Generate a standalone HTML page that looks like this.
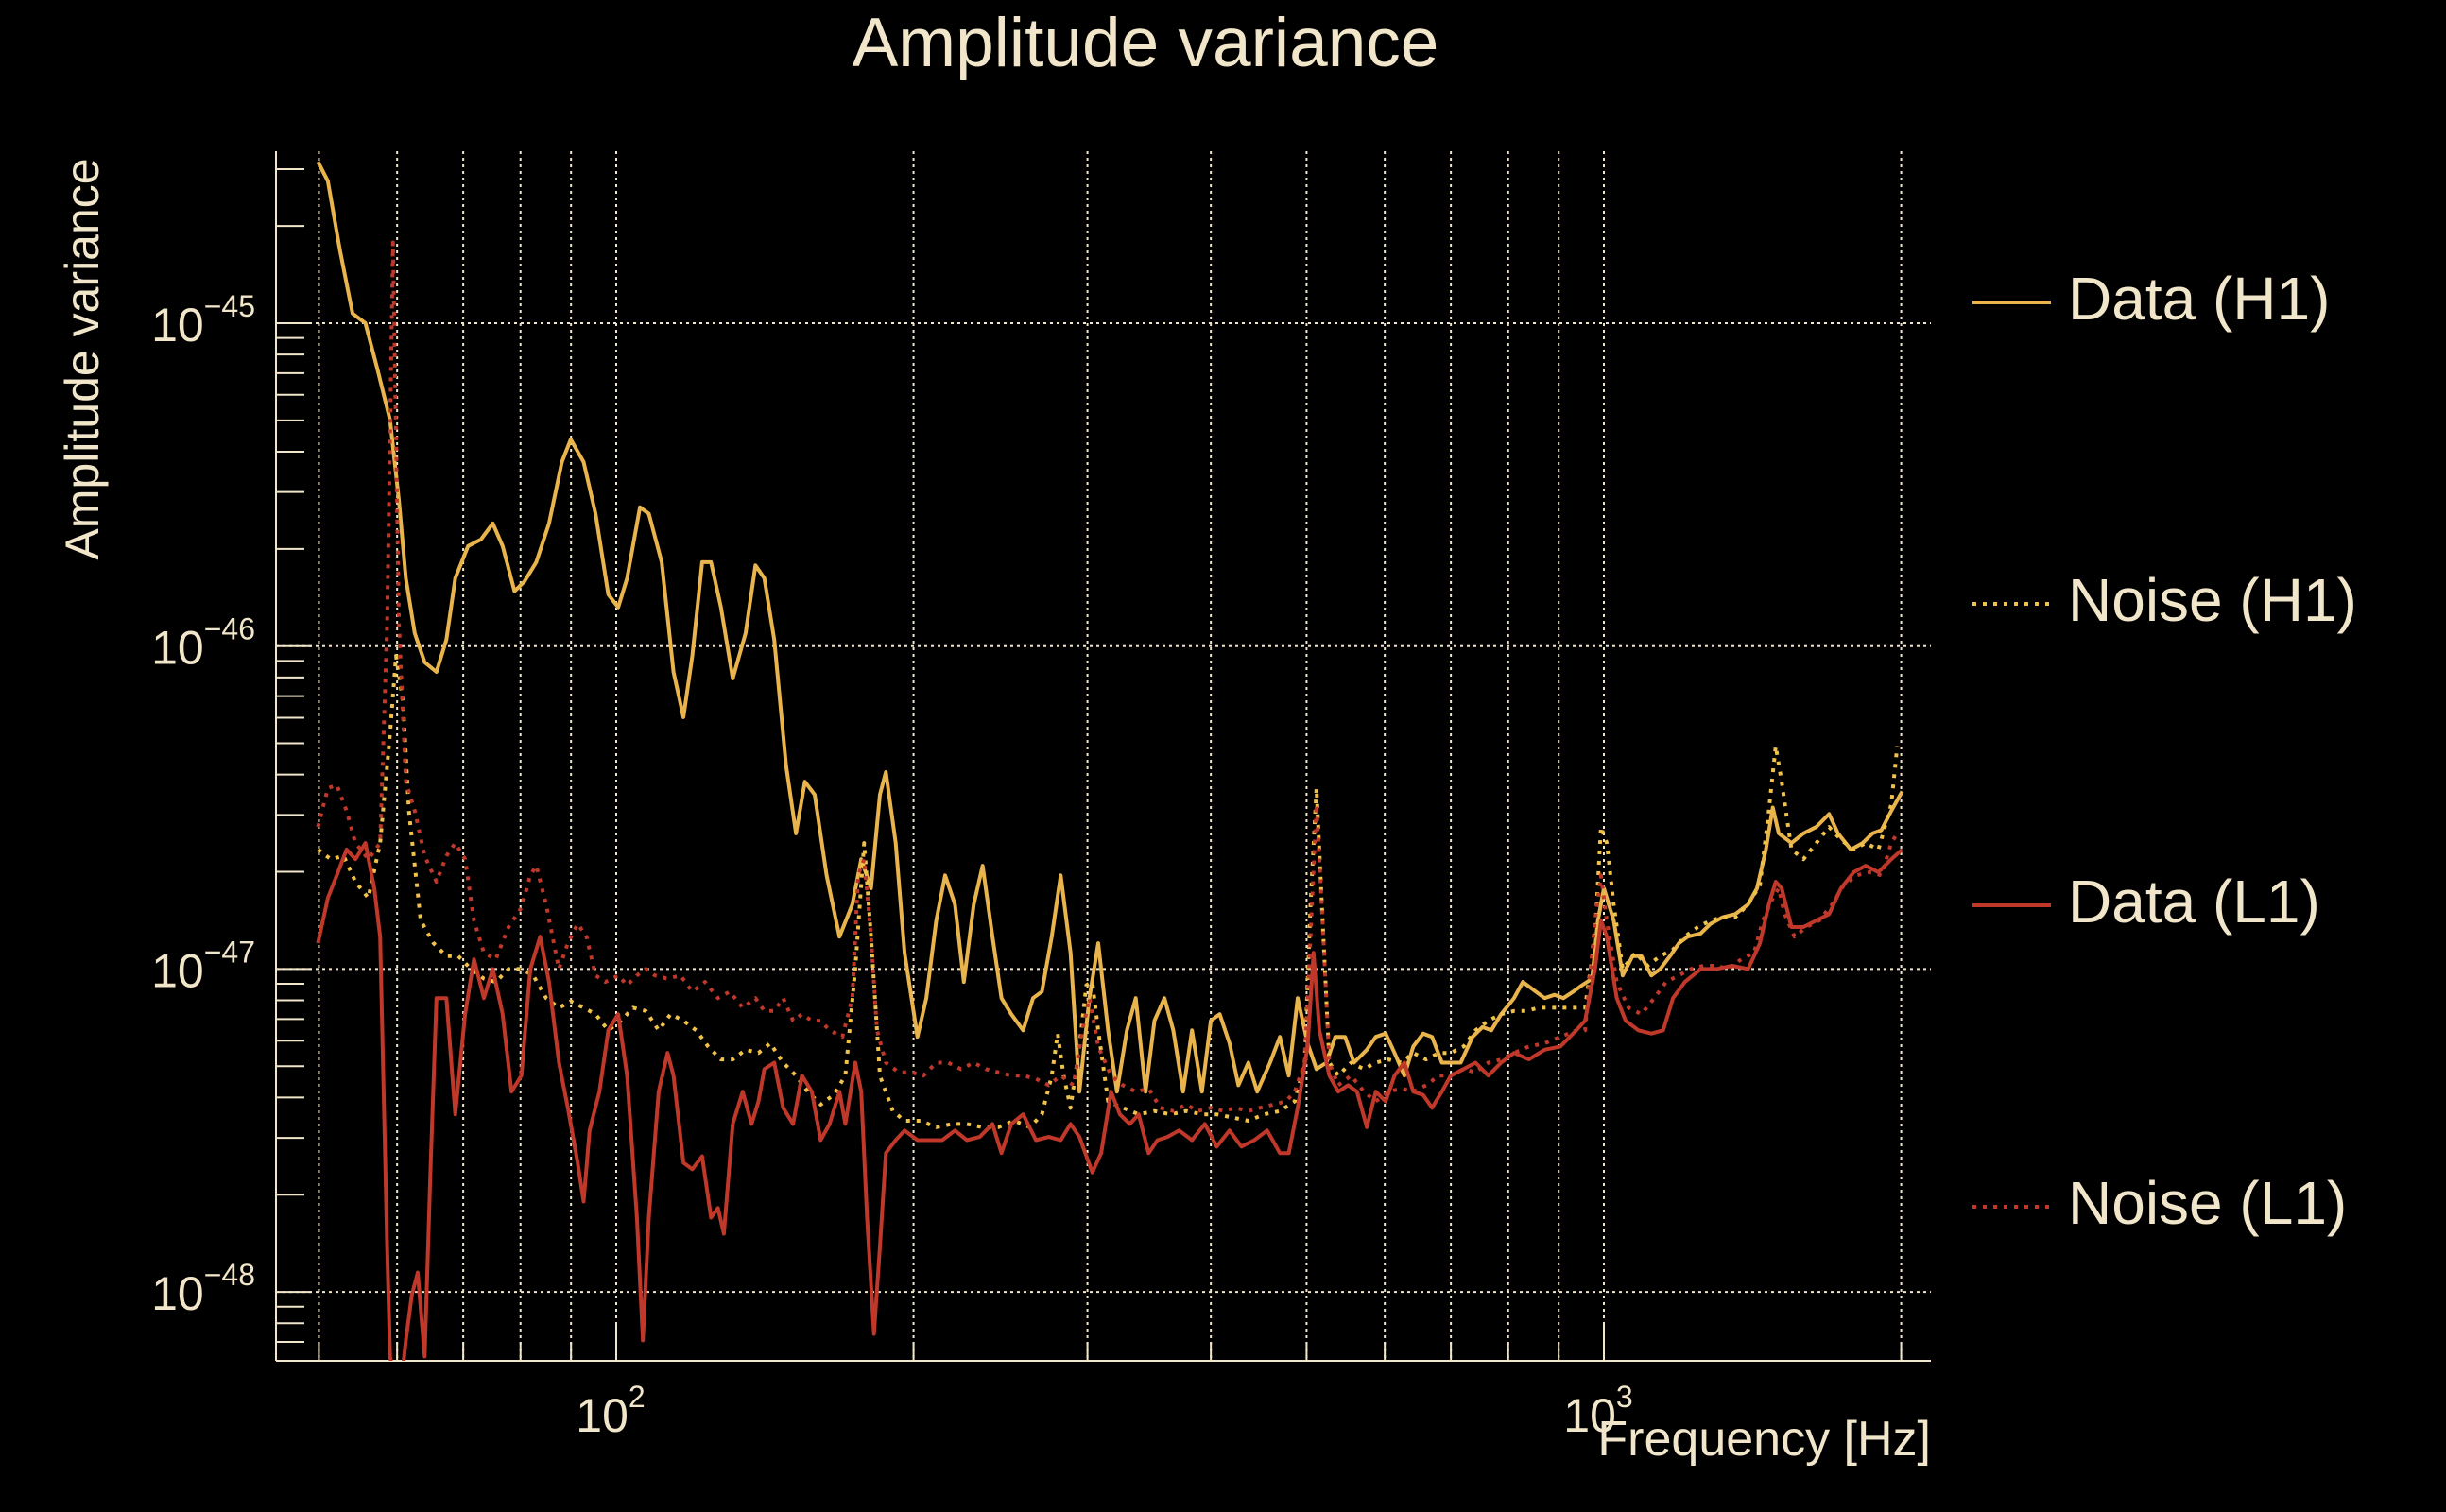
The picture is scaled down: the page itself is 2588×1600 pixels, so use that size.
<!DOCTYPE html>
<html><head><meta charset="utf-8"><style>
html,body{margin:0;padding:0;background:#000;}
svg{display:block;}
text{font-family:"Liberation Sans",sans-serif;fill:#f1e6c9;}
</style></head><body>
<svg id="chart" width="2588" height="1600" viewBox="0 0 2588 1600" xmlns="http://www.w3.org/2000/svg">
<rect width="2588" height="1600" fill="#000"/>
<text x="1212" y="70" font-size="73" text-anchor="middle">Amplitude variance</text>
<text transform="translate(104,380) rotate(-90)" font-size="50" text-anchor="middle">Amplitude variance</text>
<text x="2043" y="1540" font-size="52" text-anchor="end">Frequency [Hz]</text>
<g id="grid"></g>
<g id="axes"></g>
<g id="series"></g>
<g id="legend"></g>
</svg>
<script>
// ---- data: log10(frequency [Hz]) and log10(amplitude variance) ----
const h1DataLogF = [1.698,1.708,1.720,1.733,1.746,1.758,1.771,1.780,1.787,1.796,1.806,1.818,1.828,1.837,1.850,1.863,1.875,1.885,1.897,1.907,1.919,1.932,1.945,1.954,1.967,1.979,1.992,2.002,2.011,2.024,2.033,2.046,2.058,2.068,2.077,2.087,2.096,2.106,2.118,2.131,2.141,2.150,2.160,2.172,2.182,2.191,2.201,2.213,2.226,2.239,2.248,2.258,2.267,2.273,2.283,2.292,2.305,2.314,2.324,2.333,2.343,2.352,2.362,2.371,2.381,2.390,2.400,2.412,2.422,2.431,2.441,2.450,2.460,2.469,2.479,2.488,2.498,2.507,2.517,2.526,2.536,2.545,2.555,2.564,2.574,2.583,2.593,2.602,2.611,2.621,2.630,2.640,2.649,2.662,2.672,2.681,2.690,2.700,2.709,2.719,2.728,2.738,2.747,2.760,2.769,2.779,2.788,2.798,2.807,2.817,2.826,2.836,2.845,2.855,2.867,2.877,2.886,2.896,2.909,2.918,2.931,2.940,2.950,2.959,2.969,2.978,2.988,2.994,3.000,3.010,3.019,3.029,3.038,3.048,3.057,3.067,3.076,3.085,3.098,3.108,3.120,3.133,3.146,3.155,3.164,3.171,3.177,3.190,3.202,3.215,3.228,3.237,3.250,3.262,3.272,3.281,3.291,3.302];
const h1DataLogV = [-44.50,-44.56,-44.77,-44.97,-45.00,-45.14,-45.30,-45.55,-45.79,-45.96,-46.05,-46.08,-45.98,-45.79,-45.69,-45.67,-45.62,-45.69,-45.83,-45.80,-45.74,-45.62,-45.43,-45.36,-45.43,-45.59,-45.84,-45.88,-45.79,-45.57,-45.59,-45.74,-46.08,-46.22,-46.03,-45.74,-45.74,-45.88,-46.10,-45.96,-45.75,-45.79,-45.98,-46.37,-46.58,-46.42,-46.46,-46.71,-46.90,-46.80,-46.66,-46.75,-46.46,-46.39,-46.61,-46.95,-47.21,-47.09,-46.85,-46.71,-46.80,-47.04,-46.80,-46.68,-46.90,-47.09,-47.14,-47.19,-47.09,-47.07,-46.90,-46.71,-46.95,-47.38,-47.09,-46.92,-47.19,-47.38,-47.19,-47.09,-47.38,-47.16,-47.09,-47.19,-47.38,-47.19,-47.38,-47.16,-47.14,-47.23,-47.36,-47.29,-47.38,-47.29,-47.21,-47.33,-47.09,-47.23,-47.31,-47.29,-47.21,-47.21,-47.29,-47.25,-47.21,-47.20,-47.26,-47.33,-47.24,-47.20,-47.21,-47.29,-47.29,-47.29,-47.21,-47.18,-47.19,-47.14,-47.09,-47.04,-47.07,-47.09,-47.08,-47.09,-47.07,-47.05,-47.03,-46.85,-46.75,-46.85,-47.02,-46.96,-46.96,-47.02,-47.00,-46.96,-46.92,-46.90,-46.89,-46.86,-46.84,-46.83,-46.80,-46.75,-46.63,-46.50,-46.58,-46.61,-46.58,-46.56,-46.52,-46.58,-46.63,-46.61,-46.58,-46.57,-46.51,-46.45];

const h1NoiseLogF = [1.698,1.711,1.724,1.736,1.749,1.761,1.771,1.777,1.784,1.790,1.802,1.815,1.828,1.840,1.853,1.866,1.878,1.891,1.904,1.916,1.929,1.942,1.954,1.967,1.979,1.992,2.005,2.017,2.030,2.043,2.055,2.068,2.081,2.093,2.106,2.118,2.131,2.144,2.156,2.169,2.182,2.194,2.207,2.220,2.232,2.242,2.251,2.258,2.267,2.280,2.292,2.308,2.324,2.340,2.355,2.371,2.387,2.403,2.419,2.431,2.441,2.447,2.453,2.460,2.469,2.476,2.482,2.488,2.498,2.513,2.529,2.545,2.561,2.577,2.593,2.608,2.624,2.640,2.656,2.672,2.687,2.697,2.703,2.709,2.716,2.722,2.731,2.744,2.757,2.769,2.782,2.795,2.807,2.820,2.833,2.845,2.858,2.870,2.883,2.896,2.909,2.921,2.934,2.946,2.959,2.972,2.981,2.991,2.997,3.003,3.010,3.019,3.032,3.044,3.057,3.070,3.082,3.095,3.108,3.120,3.133,3.146,3.158,3.167,3.174,3.180,3.190,3.202,3.215,3.228,3.240,3.253,3.265,3.278,3.291,3.297];
const h1NoiseLogV = [-46.63,-46.66,-46.65,-46.73,-46.78,-46.61,-46.27,-46.03,-46.17,-46.51,-46.85,-46.92,-46.96,-46.96,-47.00,-47.03,-47.04,-47.00,-47.00,-47.02,-47.09,-47.12,-47.10,-47.12,-47.14,-47.19,-47.16,-47.12,-47.13,-47.19,-47.14,-47.16,-47.19,-47.24,-47.28,-47.28,-47.25,-47.26,-47.23,-47.29,-47.33,-47.38,-47.42,-47.39,-47.33,-47.00,-46.61,-46.90,-47.33,-47.44,-47.47,-47.47,-47.49,-47.48,-47.48,-47.49,-47.49,-47.47,-47.49,-47.45,-47.33,-47.20,-47.33,-47.43,-47.24,-47.05,-47.04,-47.19,-47.41,-47.43,-47.45,-47.44,-47.45,-47.44,-47.45,-47.45,-47.46,-47.47,-47.45,-47.44,-47.41,-47.29,-46.80,-46.44,-46.90,-47.29,-47.33,-47.29,-47.31,-47.29,-47.28,-47.29,-47.26,-47.28,-47.26,-47.26,-47.24,-47.19,-47.16,-47.14,-47.13,-47.13,-47.12,-47.12,-47.12,-47.12,-47.12,-46.90,-46.56,-46.61,-46.80,-47.00,-46.95,-46.99,-46.96,-46.94,-46.90,-46.87,-46.85,-46.84,-46.84,-46.80,-46.74,-46.51,-46.31,-46.42,-46.63,-46.66,-46.61,-46.56,-46.60,-46.63,-46.61,-46.63,-46.49,-46.31];

const l1DataLogF = [1.698,1.708,1.717,1.727,1.736,1.746,1.755,1.761,1.768,1.771,1.780,1.787,1.793,1.799,1.806,1.812,1.818,1.828,1.837,1.847,1.856,1.866,1.875,1.885,1.894,1.904,1.913,1.923,1.932,1.942,1.951,1.961,1.967,1.973,1.983,1.992,2.002,2.011,2.021,2.027,2.033,2.043,2.052,2.058,2.068,2.077,2.087,2.096,2.103,2.109,2.118,2.128,2.137,2.144,2.150,2.160,2.169,2.179,2.188,2.198,2.207,2.216,2.226,2.232,2.242,2.248,2.254,2.261,2.267,2.273,2.283,2.292,2.305,2.318,2.330,2.343,2.355,2.368,2.381,2.390,2.400,2.412,2.425,2.438,2.450,2.460,2.469,2.482,2.491,2.501,2.510,2.520,2.529,2.539,2.548,2.558,2.570,2.583,2.596,2.608,2.621,2.633,2.646,2.659,2.672,2.681,2.690,2.700,2.706,2.712,2.722,2.731,2.741,2.750,2.760,2.769,2.779,2.788,2.798,2.807,2.817,2.826,2.836,2.845,2.858,2.870,2.883,2.896,2.909,2.924,2.940,2.956,2.972,2.981,2.991,2.997,3.003,3.013,3.022,3.035,3.048,3.060,3.070,3.082,3.098,3.114,3.130,3.146,3.158,3.167,3.174,3.180,3.190,3.202,3.215,3.228,3.240,3.253,3.265,3.278,3.291,3.302];
const l1DataLogV = [-46.92,-46.78,-46.71,-46.63,-46.66,-46.61,-46.75,-46.90,-47.86,-48.20,-48.35,-48.15,-48.01,-47.94,-48.20,-47.62,-47.09,-47.09,-47.45,-47.14,-46.97,-47.09,-47.00,-47.14,-47.38,-47.33,-47.00,-46.90,-47.04,-47.29,-47.43,-47.60,-47.72,-47.50,-47.38,-47.19,-47.14,-47.33,-47.77,-48.15,-47.77,-47.38,-47.26,-47.33,-47.60,-47.62,-47.58,-47.77,-47.74,-47.82,-47.48,-47.38,-47.48,-47.41,-47.31,-47.29,-47.43,-47.48,-47.33,-47.38,-47.53,-47.48,-47.38,-47.48,-47.29,-47.38,-47.77,-48.13,-47.86,-47.57,-47.53,-47.50,-47.53,-47.53,-47.53,-47.50,-47.53,-47.52,-47.48,-47.57,-47.48,-47.45,-47.53,-47.52,-47.53,-47.48,-47.52,-47.63,-47.57,-47.38,-47.45,-47.48,-47.45,-47.57,-47.53,-47.52,-47.50,-47.53,-47.48,-47.55,-47.50,-47.55,-47.53,-47.50,-47.57,-47.57,-47.43,-47.24,-46.95,-47.19,-47.33,-47.38,-47.36,-47.38,-47.49,-47.38,-47.41,-47.33,-47.29,-47.38,-47.39,-47.43,-47.38,-47.33,-47.31,-47.29,-47.33,-47.29,-47.26,-47.28,-47.25,-47.24,-47.19,-47.16,-47.00,-46.85,-46.90,-47.09,-47.16,-47.19,-47.20,-47.19,-47.09,-47.04,-47.00,-47.00,-46.99,-47.00,-46.92,-46.80,-46.73,-46.75,-46.87,-46.87,-46.85,-46.83,-46.75,-46.70,-46.68,-46.70,-46.66,-46.63];

const l1NoiseLogF = [1.698,1.708,1.717,1.727,1.736,1.749,1.761,1.768,1.774,1.780,1.787,1.796,1.806,1.818,1.828,1.837,1.847,1.856,1.866,1.878,1.891,1.904,1.913,1.919,1.929,1.942,1.951,1.961,1.970,1.979,1.989,2.002,2.011,2.021,2.030,2.039,2.052,2.065,2.077,2.090,2.103,2.115,2.128,2.141,2.150,2.160,2.169,2.179,2.188,2.198,2.207,2.216,2.229,2.239,2.245,2.251,2.258,2.264,2.273,2.286,2.299,2.311,2.324,2.336,2.349,2.362,2.374,2.387,2.400,2.412,2.425,2.438,2.450,2.463,2.472,2.479,2.488,2.501,2.513,2.526,2.539,2.551,2.564,2.577,2.589,2.602,2.615,2.627,2.640,2.652,2.665,2.678,2.687,2.697,2.703,2.709,2.716,2.722,2.731,2.744,2.757,2.769,2.782,2.795,2.807,2.820,2.833,2.845,2.858,2.870,2.883,2.896,2.909,2.924,2.940,2.956,2.972,2.981,2.991,2.997,3.003,3.013,3.025,3.038,3.051,3.063,3.076,3.088,3.101,3.114,3.126,3.139,3.152,3.161,3.171,3.177,3.183,3.193,3.205,3.218,3.231,3.243,3.256,3.269,3.281,3.291,3.297];
const l1NoiseLogV = [-46.56,-46.44,-46.43,-46.51,-46.61,-46.66,-46.61,-45.93,-44.75,-45.93,-46.42,-46.51,-46.65,-46.73,-46.65,-46.61,-46.66,-46.85,-46.95,-46.97,-46.87,-46.81,-46.71,-46.68,-46.80,-47.00,-46.92,-46.86,-46.90,-47.02,-47.04,-47.02,-47.05,-47.02,-47.00,-47.02,-47.03,-47.02,-47.07,-47.04,-47.09,-47.07,-47.12,-47.09,-47.13,-47.13,-47.09,-47.16,-47.14,-47.16,-47.16,-47.19,-47.21,-47.09,-46.71,-46.66,-46.90,-47.19,-47.29,-47.32,-47.32,-47.33,-47.29,-47.29,-47.31,-47.29,-47.31,-47.32,-47.33,-47.33,-47.34,-47.36,-47.33,-47.36,-47.19,-47.09,-47.24,-47.33,-47.36,-47.38,-47.37,-47.43,-47.44,-47.42,-47.44,-47.43,-47.44,-47.43,-47.44,-47.43,-47.42,-47.41,-47.38,-47.29,-46.90,-46.49,-46.90,-47.29,-47.36,-47.33,-47.38,-47.41,-47.38,-47.37,-47.38,-47.36,-47.33,-47.33,-47.31,-47.32,-47.29,-47.28,-47.26,-47.24,-47.23,-47.21,-47.19,-47.19,-46.85,-46.71,-46.85,-47.04,-47.12,-47.14,-47.09,-47.04,-47.02,-47.00,-46.99,-46.99,-47.00,-46.97,-46.95,-46.85,-46.78,-46.75,-46.83,-46.90,-46.87,-46.85,-46.80,-46.74,-46.71,-46.70,-46.71,-46.61,-46.58];

const yTickExponents = [-45,-46,-47,-48];
const xTickExponents = [2,3];
const xGridFreqs = [50,60,70,80,90,100,200,300,400,500,600,700,800,900,1000,2000];
const legendLabels = ["Data (H1)","Noise (H1)","Data (L1)","Noise (L1)"];

// ---- axes ----
const PL=292, PR=2043, PT=160, PB=1440;
const X0=652, XDEC=1045;
const Y0=342, YDEC=341.7;
function xScale(lf){return X0+(lf-2)*XDEC;}
function yScale(lv){return Y0+(-45-lv)*YDEC;}
const NS="http://www.w3.org/2000/svg";
function mk(tag,attrs,parent){const e=document.createElementNS(NS,tag);for(const k in attrs)e.setAttribute(k,attrs[k]);parent.appendChild(e);return e;}
const grid=document.getElementById('grid'), axes=document.getElementById('axes'), series=document.getElementById('series'), legend=document.getElementById('legend');
const CREAM="#f1e6c9";

xGridFreqs.forEach(f=>{
  const x=xScale(Math.log10(f));
  const g=mk('line',{x1:x,x2:x,y1:PT,y2:PB,stroke:CREAM,'stroke-width':2,'stroke-dasharray':'3 4'},grid);
  
  
  const major=Math.abs(Math.log10(f)-Math.round(Math.log10(f)))<1e-9;
  const t=mk('line',{x1:x,x2:x,y1:PB,y2:PB-(major?38:20),stroke:CREAM,'stroke-width':2},axes);
  
  
});
yTickExponents.forEach(ex=>{
  const y=yScale(ex);
  const g=mk('line',{x1:PL,x2:PR,y1:y,y2:y,stroke:CREAM,'stroke-width':2,'stroke-dasharray':'3 4'},grid);
  
  
  const t=mk('text',{x:270,y:y+19,'font-size':50,'text-anchor':'end'},axes);
  
  
  const a=mk('tspan',{},t);a.textContent='10';
  const b=mk('tspan',{dy:-26,'font-size':32},t);b.textContent='\u2212'+(-ex);
});
for(let e=-49;e<=-44;e++){
  for(let m=1;m<=9;m++){
    const lv=e+Math.log10(m); const y=yScale(lv);
    if(y<PT||y>PB)continue;
    const t=mk('line',{x1:PL,x2:PL+(m===1?38:30),y1:y,y2:y,stroke:CREAM,'stroke-width':2},axes);
    
    
  }
}
xTickExponents.forEach(ex=>{
  const x=xScale(ex);
  const t=mk('text',{x:x-6,y:1515,'font-size':50,'text-anchor':'middle'},axes);
  
  
  const a=mk('tspan',{},t);a.textContent='10';
  const b=mk('tspan',{dy:-26,'font-size':32},t);b.textContent=String(ex);
});
const ax1=mk('line',{x1:PL,x2:PL,y1:PT,y2:PB,stroke:CREAM,'stroke-width':2},axes);


const ax2=mk('line',{x1:PL,x2:PR,y1:PB,y2:PB,stroke:CREAM,'stroke-width':2},axes);



const defs=mk('defs',{},series);
const cp=mk('clipPath',{id:'plotclip'},defs);
mk('rect',{x:PL,y:PT,width:PR-PL,height:PB-PT},cp);
series.setAttribute('clip-path','url(#plotclip)');

const styles=[
  {f:h1DataLogF,v:h1DataLogV,c:"#e9b44c",d:null,name:'series-data-h1'},
  {f:h1NoiseLogF,v:h1NoiseLogV,c:"#f0c24a",d:'4 7',name:'series-noise-h1'},
  {f:l1NoiseLogF,v:l1NoiseLogV,c:"#c0382a",d:'4 7',name:'series-noise-l1'},
  {f:l1DataLogF,v:l1DataLogV,c:"#c0382a",d:null,name:'series-data-l1'}
];
styles.forEach(s=>{
  let d='';
  s.f.forEach((lf,i)=>{d+=(i?'L':'M')+xScale(lf).toFixed(1)+' '+yScale(s.v[i]).toFixed(1);});
  const attrs={d:d,fill:'none',stroke:s.c,'stroke-width':4,'stroke-linejoin':'round'};
  if(s.d)attrs['stroke-dasharray']=s.d;
  const p=mk('path',attrs,series);
  
  
});

const legCols=["#e9b44c","#f0c24a","#c0382a","#c0382a"];
const legDash=[null,'4 7',null,'4 7'];
legendLabels.forEach((lab,i)=>{
  const y=320+i*319;
  const g=mk('g',{},legend);
  
  
  const la={x1:2087,x2:2170,y1:y,y2:y,stroke:legCols[i],'stroke-width':4};
  if(legDash[i])la['stroke-dasharray']=legDash[i];
  const l=mk('line',la,g);
  
  
  const t=mk('text',{x:2188,y:y+18,'font-size':64},g);
  
  
  t.textContent=lab;
});
</script>
</body></html>
